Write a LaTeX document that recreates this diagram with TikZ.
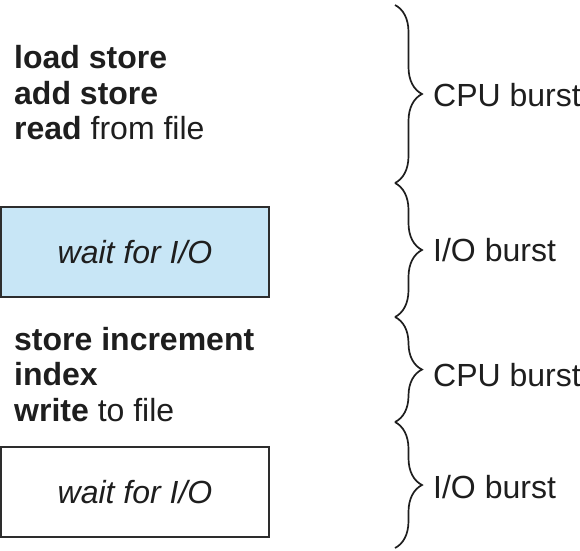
\documentclass[tikz,border=0pt]{standalone}
\usepackage{fontspec}
\setmainfont{Liberation Sans}
\usetikzlibrary{decorations.pathreplacing}
\definecolor{iobox}{RGB}{200,230,246}
\definecolor{edge}{RGB}{45,45,45}
\definecolor{ink}{RGB}{30,30,30}
\tikzset{
  code/.style={anchor=base west, inner sep=0pt, text=ink, font=\fontsize{32pt}{36pt}\selectfont},
  burst/.style={anchor=base west, inner sep=0pt, text=ink, font=\fontsize{32pt}{36pt}\selectfont},
  waitbox/.style={draw=edge, line width=2pt, minimum width=268pt, minimum height=90pt, inner sep=0pt,
    text=ink, font=\fontsize{32pt}{36pt}\selectfont\itshape},
  bracestyle/.style={draw=ink, line width=1.7pt, decorate,
    decoration={brace, amplitude=27pt}}
}
\begin{document}
\begin{tikzpicture}[x=1pt,y=-1pt]
\useasboundingbox (0,0) rectangle (580,550);
% first CPU block
\node[code] (l1) at (14,68) {\textbf{load store}};
\node[code] (l2) at (14,104) {\textbf{add store}};
\node[code] (l3) at (14,139) {\textbf{read} from file};
% first wait box
\node[waitbox, fill=iobox] (w1) at (135,252) {wait for I/O};
% second CPU block
\node[code] (l4) at (14,350) {\textbf{store increment}};
\node[code] (l5) at (14,385) {\textbf{index}};
\node[code] (l6) at (14,421) {\textbf{write} to file};
% second wait box
\node[waitbox, fill=white] (w2) at (135,492) {wait for I/O};
% brace end points
\coordinate (b0) at (395,5);
\coordinate (b1) at (395,183);
\coordinate (b2) at (395,317);
\coordinate (b3) at (395,422);
\coordinate (b4) at (395,548);
\draw[bracestyle] (b0) -- (b1);
\draw[bracestyle] (b1) -- (b2);
\draw[bracestyle] (b2) -- (b3);
\draw[bracestyle] (b3) -- (b4);
% labels
\node[burst] (c1) at (433,106) {CPU burst};
\node[burst] (i1) at (433,261) {I/O burst};
\node[burst] (c2) at (433,386) {CPU burst};
\node[burst] (i2) at (433,498) {I/O burst};
\end{tikzpicture}
\end{document}
